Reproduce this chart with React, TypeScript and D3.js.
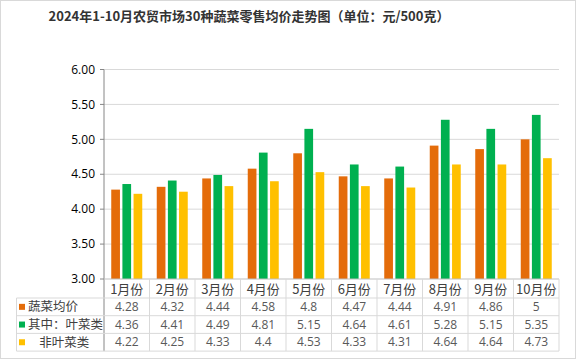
import React from "react";
import * as d3 from "d3";

const months = ["1月份", "2月份", "3月份", "4月份", "5月份", "6月份", "7月份", "8月份", "9月份", "10月份"];
const avgPrice = [4.28, 4.32, 4.44, 4.58, 4.8, 4.47, 4.44, 4.91, 4.86, 5];
const leafyPrice = [4.36, 4.41, 4.49, 4.81, 5.15, 4.64, 4.61, 5.28, 5.15, 5.35];
const nonLeafyPrice = [4.22, 4.25, 4.33, 4.4, 4.53, 4.33, 4.31, 4.64, 4.64, 4.73];
const seriesNames = ["蔬菜均价", "其中：叶菜类", "    非叶菜类"];
const seriesColors = ["#E46C0A", "#00B050", "#FFC000"];
const yTicks = [3.0, 3.5, 4.0, 4.5, 5.0, 5.5, 6.0];
const titleText = "2024年1-10月农贸市场30种蔬菜零售均价走势图（单位：元/500克）";

const W = 578;
const H = 360;
const left = 104;
const right = 559;
const top = 69.5;
const bottom = 279;
const rowH = 17.7;
const legendLeft = 16.5;

export default function App() {
  const series = [avgPrice, leafyPrice, nonLeafyPrice];
  const x = d3.scaleBand<string>().domain(months).range([left, right]);
  const y = d3.scaleLinear().domain([3, 6]).range([bottom, top]);
  const inner = d3.scaleBand<number>().domain([0, 1, 2]).range([-15.5, 15.5]).paddingInner(0.22);
  const font = "'Noto Sans CJK SC', 'Open Sans', sans-serif";
  const rowsTop = bottom + 19;
  const tableBottom = rowsTop + rowH * 3;
  const grid = "#d9d9d9";

  return (
    <svg width={W} height={H} style={{ position: "absolute", left: 0, top: 0 }} fontFamily={font}>
      <rect x={0} y={0} width={W} height={H} fill="#fff" />
      <rect x={0.5} y={0.5} width={575} height={358} fill="none" stroke={grid} />
      <text x={249} y={21} textAnchor="middle" fontSize={13} fontWeight="bold" fill="#333">
        {titleText}
      </text>
      {yTicks.map((t) => (
        <g key={t}>
          {t > 3 && <line x1={left} x2={right} y1={y(t)} y2={y(t)} stroke={grid} />}
          <line x1={left - 4} x2={left} y1={y(t)} y2={y(t)} stroke="#868686" />
          <text x={left - 9} y={y(t)} dy="0.35em" textAnchor="end" fontSize={12} fill="#000" fontFamily="'Open Sans', sans-serif">
            {t.toFixed(2)}
          </text>
        </g>
      ))}
      {months.map((m, i) => (
        <g key={m}>
          {series.map((s, k) => (
            <rect
              key={k}
              x={(x(m) as number) + x.bandwidth() / 2 + (inner(k) as number)}
              width={inner.bandwidth()}
              y={y(s[i])}
              height={bottom - y(s[i])}
              fill={seriesColors[k]}
            />
          ))}
        </g>
      ))}
      <line x1={left} x2={left} y1={top} y2={tableBottom} stroke="#868686" />
      <line x1={left} x2={right} y1={bottom} y2={bottom} stroke="#bfbfbf" />
      {[0, 1, 2, 3].map((r) => (
        <line key={r} x1={legendLeft} x2={right} y1={rowsTop + r * rowH} y2={rowsTop + r * rowH} stroke={grid} />
      ))}
      <line x1={legendLeft} x2={legendLeft} y1={rowsTop} y2={tableBottom} stroke={grid} />
      {months.map((m) => (
        <line key={m} x1={(x(m) as number) + x.bandwidth()} x2={(x(m) as number) + x.bandwidth()} y1={bottom} y2={tableBottom} stroke={grid} />
      ))}
      {months.map((m) => (
        <text key={m} x={(x(m) as number) + x.bandwidth() / 2} y={bottom + 10} dy="0.35em" textAnchor="middle" fontSize={13} fill="#404040">
          {m}
        </text>
      ))}
      {series.map((s, k) => (
        <g key={k}>
          <rect x={19} y={rowsTop + k * rowH + rowH / 2 - 3} width={6} height={6} fill={seriesColors[k]} />
          <text x={28} y={rowsTop + k * rowH + rowH / 2} dy="0.35em" fontSize={12.5} fill="#404040" xmlSpace="preserve">
            {seriesNames[k]}
          </text>
          {months.map((m, i) => (
            <text
              key={m}
              x={(x(m) as number) + x.bandwidth() / 2}
              y={rowsTop + k * rowH + rowH / 2}
              dy="0.35em"
              textAnchor="middle"
              fontSize={12}
              fill="#595959"
              fontFamily="'Open Sans', sans-serif"
            >
              {String(s[i])}
            </text>
          ))}
        </g>
      ))}
    </svg>
  );
}
